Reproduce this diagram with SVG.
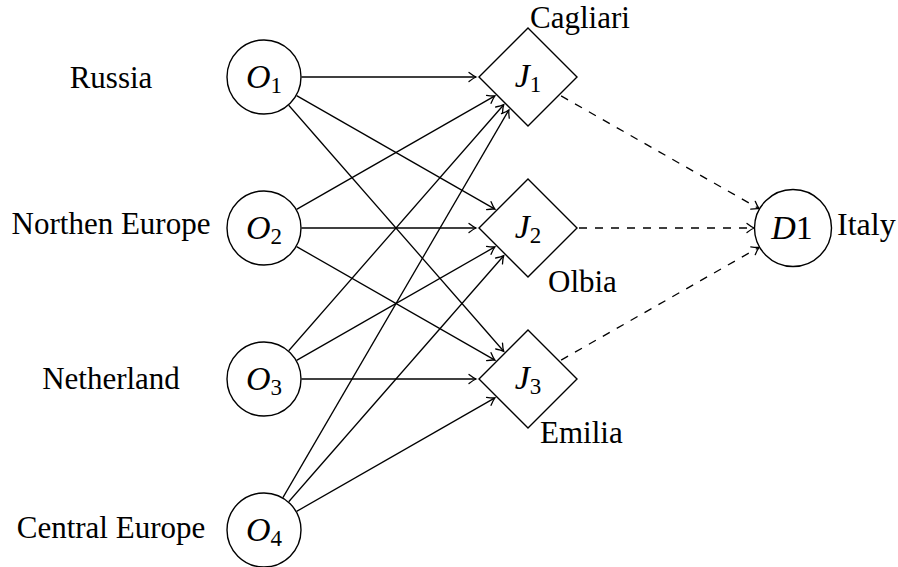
<svg xmlns="http://www.w3.org/2000/svg" width="898" height="567" viewBox="0 0 898 567">
<style>
.n{fill:#fff;stroke:#000;stroke-width:1.4}
.t{font-family:"Liberation Serif","Times New Roman",serif;font-size:31px;fill:#000}
.m{font-family:"Liberation Serif","Times New Roman",serif;font-size:34px;fill:#000;text-anchor:middle}
.i{font-style:italic}
.s{font-size:23px}
.e{fill:none;stroke:#000;stroke-width:1.3;marker-end:url(#to)}
.d{stroke-dasharray:8 8}
</style>
<defs>
<marker id="to" viewBox="-9 -6 11 12" markerWidth="11" markerHeight="12" refX="0" refY="0" orient="auto" markerUnits="userSpaceOnUse">
<path d="M-7,-4.5 Q-2.5,-1 0,0 Q-2.5,1 -7,4.5" fill="none" stroke="#000" stroke-width="1.3" stroke-linecap="round"/>
</marker>
</defs>
<g id="connectors">
<path class="e" d="M301.5,77 L476,77"/>
<path class="e" d="M296.6,95.6 L494.9,209.1"/>
<path class="e" d="M288.7,105.2 L503.7,351.3"/>
<path class="e" d="M296.6,209.4 L494.9,95.9"/>
<path class="e" d="M301.5,228 L476,228"/>
<path class="e" d="M296.6,246.6 L494.9,360.1"/>
<path class="e" d="M288.7,350.8 L503.7,104.7"/>
<path class="e" d="M296.6,360.4 L494.9,246.9"/>
<path class="e" d="M301.5,379 L476,379"/>
<path class="e" d="M282.9,497.6 L508.9,109.9"/>
<path class="e" d="M288.7,501.8 L503.7,255.7"/>
<path class="e" d="M296.6,511.4 L494.9,397.9"/>
<path class="e d" d="M561.1,95.9 L759.1,208.7"/>
<path class="e d" d="M579,228 L754,228"/>
<path class="e d" d="M561.1,360.1 L759.1,247.3"/>
</g>
<g id="O1"><circle class="n" cx="264" cy="77" r="37"/><text class="m" x="264" y="88"><tspan class="i">O</tspan><tspan class="s" dy="5">1</tspan></text></g>
<g id="O2"><circle class="n" cx="264" cy="228" r="37"/><text class="m" x="264" y="239"><tspan class="i">O</tspan><tspan class="s" dy="5">2</tspan></text></g>
<g id="O3"><circle class="n" cx="264" cy="379" r="37"/><text class="m" x="264" y="390"><tspan class="i">O</tspan><tspan class="s" dy="5">3</tspan></text></g>
<g id="O4"><circle class="n" cx="264" cy="530" r="37"/><text class="m" x="264" y="541"><tspan class="i">O</tspan><tspan class="s" dy="5">4</tspan></text></g>
<g id="J1"><path class="n" d="M528,28 L577,77 L528,126 L479,77 Z"/><text class="m" x="528" y="87"><tspan class="i">J</tspan><tspan class="s" dy="5">1</tspan></text></g>
<g id="J2"><path class="n" d="M528,179 L577,228 L528,277 L479,228 Z"/><text class="m" x="528" y="238"><tspan class="i">J</tspan><tspan class="s" dy="5">2</tspan></text></g>
<g id="J3"><path class="n" d="M528,330 L577,379 L528,428 L479,379 Z"/><text class="m" x="528" y="389"><tspan class="i">J</tspan><tspan class="s" dy="5">3</tspan></text></g>
<g id="D1"><circle class="n" cx="793" cy="228" r="38.5"/><text class="m" x="792" y="239"><tspan class="i">D</tspan>1</text></g>
<g id="labels">
<text class="t" x="111" y="88" text-anchor="middle">Russia</text>
<text class="t" x="111" y="234" text-anchor="middle">Northen Europe</text>
<text class="t" x="111" y="389" text-anchor="middle">Netherland</text>
<text class="t" x="111" y="538" text-anchor="middle">Central Europe</text>
<text class="t" x="530" y="28">Cagliari</text>
<text class="t" x="548" y="292">Olbia</text>
<text class="t" x="540" y="443">Emilia</text>
<text class="t" x="837" y="235" style="font-size:32px">Italy</text>
</g>
</svg>
